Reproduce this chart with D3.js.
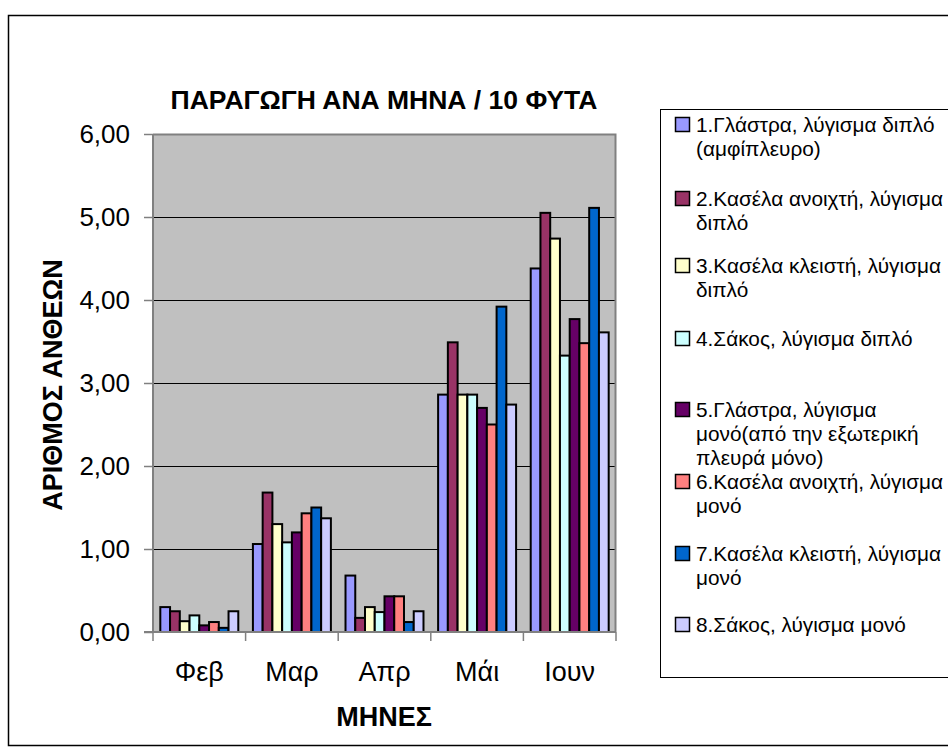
<!DOCTYPE html>
<html>
<head>
<meta charset="utf-8">
<script src="https://cdn.jsdelivr.net/npm/d3@7/dist/d3.min.js"></script>
<style>
  html, body { margin: 0; padding: 0; background: #fff; }
  svg { display: block; font-family: "Liberation Sans", Arial, sans-serif; }
</style>
</head>
<body>
<svg id="chart" width="948" height="754"></svg>
<script>
// Months on the x axis
const months = ["Φεβ", "Μαρ", "Απρ", "Μάι", "Ιουν"];

// Legend labels, one per treatment (pre-wrapped lines)
const seriesNames = [
  ["1.Γλάστρα, λύγισμα διπλό", "(αμφίπλευρο)"],
  ["2.Κασέλα ανοιχτή, λύγισμα", "διπλό"],
  ["3.Κασέλα κλειστή, λύγισμα", "διπλό"],
  ["4.Σάκος, λύγισμα διπλό"],
  ["5.Γλάστρα, λύγισμα", "μονό(από την εξωτερική", "πλευρά μόνο)"],
  ["6.Κασέλα ανοιχτή, λύγισμα", "μονό"],
  ["7.Κασέλα κλειστή, λύγισμα", "μονό"],
  ["8.Σάκος, λύγισμα μονό"]
];

// Flowers per month / 10 plants, one array per treatment (Φεβ..Ιουν)
const s1 = [0.30, 1.06, 0.68, 2.86, 4.38];
const s2 = [0.25, 1.68, 0.17, 3.49, 5.05];
const s3 = [0.13, 1.30, 0.30, 2.86, 4.74];
const s4 = [0.20, 1.08, 0.24, 2.86, 3.33];
const s5 = [0.08, 1.20, 0.43, 2.70, 3.77];
const s6 = [0.12, 1.43, 0.43, 2.50, 3.48];
const s7 = [0.05, 1.50, 0.12, 3.92, 5.11];
const s8 = [0.25, 1.37, 0.25, 2.74, 3.61];
const seriesValues = [s1, s2, s3, s4, s5, s6, s7, s8];

// Y axis ticks
const yTicks = [0, 1, 2, 3, 4, 5, 6];

const colors = ["#9999FF", "#993366", "#FFFFCC", "#CCFFFF", "#660066", "#FF8080", "#0066CC", "#CCCCFF"];

const FONT = "'Liberation Sans', Arial, sans-serif";
const svg = d3.select("#chart");

// outer chart frame
svg.append("rect")
  .attr("x", 8.5).attr("y", 15.5)
  .attr("width", 960).attr("height", 730)
  .attr("fill", "#fff").attr("stroke", "#000").attr("stroke-width", 1.5);

const plot = { left: 153, top: 134, right: 616, bottom: 632 };

const x = d3.scaleBand()
  .domain(months)
  .range([plot.left, plot.right])
  .paddingInner(0).paddingOuter(0);

// 8 bars per month, gap of 1.5 bar widths between groups
const barW = x.bandwidth() / (seriesValues.length + 1.5);
const xInner = d3.scaleBand()
  .domain(d3.range(seriesValues.length))
  .range([barW * 0.75, x.bandwidth() - barW * 0.75]);

const y = d3.scaleLinear().domain([0, 6]).range([plot.bottom, plot.top]);

// plot background
svg.append("rect")
  .attr("x", plot.left).attr("y", plot.top)
  .attr("width", plot.right - plot.left).attr("height", plot.bottom - plot.top)
  .attr("fill", "#C0C0C0");

// gridlines
svg.append("g")
  .selectAll("line")
  .data(yTicks.filter(d => d > 0 && d < 6))
  .join("line")
  .attr("x1", plot.left).attr("x2", plot.right)
  .attr("y1", d => Math.round(y(d)) + 0.5).attr("y2", d => Math.round(y(d)) + 0.5)
  .attr("stroke", "#000").attr("stroke-width", 1);

// plot border (top and right)
svg.append("path")
  .attr("d", `M${plot.left},${plot.top + 0.5}H${plot.right - 0.5}V${plot.bottom}`)
  .attr("fill", "none").attr("stroke", "#808080").attr("stroke-width", 2);

// bars
const groups = svg.append("g")
  .selectAll("g")
  .data(seriesValues)
  .join("g")
  .attr("fill", (d, i) => colors[i]);

groups.selectAll("rect")
  .data((vals, si) => vals.map((v, mi) => ({ v, mi, si })))
  .join("rect")
  .attr("x", d => x(months[d.mi]) + xInner(d.si))
  .attr("width", xInner.bandwidth())
  .attr("y", d => y(d.v))
  .attr("height", d => y(0) - y(d.v))
  .attr("stroke", "#000")
  .attr("stroke-width", 2);

// y axis
const yAxis = d3.axisLeft(y)
  .tickValues(yTicks)
  .tickSize(9)
  .tickPadding(14)
  .tickFormat(d => d3.format(".2f")(d).replace(".", ","));

const gy = svg.append("g")
  .attr("transform", `translate(${plot.left},0)`)
  .call(yAxis);
gy.select(".domain").attr("stroke", "#808080").attr("stroke-width", 2)
  .attr("d", `M0,${plot.top}V${plot.bottom}`);
gy.selectAll(".tick line").attr("stroke", "#808080").attr("stroke-width", 1.5);
gy.selectAll(".tick text")
  .attr("font-size", 26).attr("fill", "#000")
  .attr("font-family", FONT);

// x axis
const xAxis = d3.axisBottom(x).tickSize(0).tickPadding(0);
const gx = svg.append("g")
  .attr("transform", `translate(0,${plot.bottom})`)
  .call(xAxis);
gx.select(".domain").attr("stroke", "#808080").attr("stroke-width", 2)
  .attr("d", `M${plot.left - 9},0H${plot.right}`);
gx.selectAll(".tick text")
  .attr("font-size", 27).attr("fill", "#000")
  .attr("font-family", FONT)
  .attr("dy", null)
  .attr("y", 49);
// category separator ticks
gx.append("g")
  .selectAll("line")
  .data(months.map(m => x(m)).concat([plot.right]))
  .join("line")
  .attr("x1", d => d).attr("x2", d => d)
  .attr("y1", 0).attr("y2", 9)
  .attr("stroke", "#808080").attr("stroke-width", 1.5);

// title
svg.append("text")
  .attr("x", 384).attr("y", 109)
  .attr("text-anchor", "middle")
  .attr("font-size", 26.5).attr("font-weight", "bold")
  .text("ΠΑΡΑΓΩΓΗ ΑΝΑ ΜΗΝΑ / 10 ΦΥΤΑ");

// axis titles
svg.append("text")
  .attr("transform", `translate(62,385) rotate(-90)`)
  .attr("text-anchor", "middle")
  .attr("font-size", 27).attr("font-weight", "bold")
  .text("ΑΡΙΘΜΟΣ ΑΝΘΕΩΝ");

svg.append("text")
  .attr("x", 384).attr("y", 726)
  .attr("text-anchor", "middle")
  .attr("font-size", 27).attr("font-weight", "bold")
  .text("ΜΗΝΕΣ");

// legend
const legend = { left: 660, top: 109, bottom: 677 };
svg.append("rect")
  .attr("x", legend.left + 0.5).attr("y", legend.top + 0.5)
  .attr("width", 400).attr("height", legend.bottom - legend.top)
  .attr("fill", "#fff").attr("stroke", "#000").attr("stroke-width", 1);

// baseline of each entry's first line
const entryBaseline = [132, 206, 273, 346, 417, 489, 561, 632];
const lineH = 24;

const items = svg.append("g")
  .selectAll("g")
  .data(seriesNames)
  .join("g")
  .attr("transform", (d, i) => `translate(${legend.left},${entryBaseline[i]})`);

items.append("rect")
  .attr("x", 15.5).attr("y", -14.5)
  .attr("width", 14).attr("height", 14)
  .attr("fill", (d, i) => colors[i])
  .attr("stroke", "#000").attr("stroke-width", 1.5);

items.selectAll("text")
  .data(d => d)
  .join("text")
  .attr("x", 36)
  .attr("y", (d, j) => j * lineH)
  .attr("font-size", 20.8)
  .text(d => d);
</script>
</body>
</html>
